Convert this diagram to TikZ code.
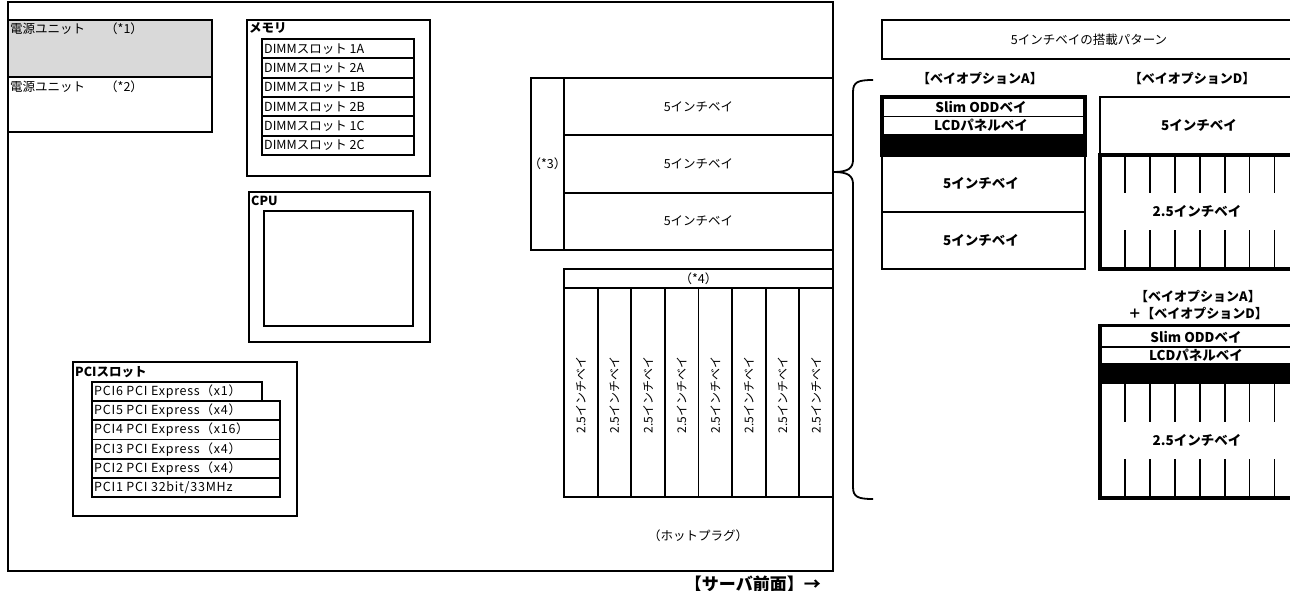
\documentclass[tikz,border=0pt]{standalone}
\usepackage{fontspec}
\setmainfont{Noto Sans CJK JP}
\definecolor{psugray}{HTML}{D9D9D9}
\tikzset{
  ln/.style={line width=1.8pt},
  thk/.style={line width=3.4pt},
  txt/.style={inner sep=0pt, font=\fontsize{12.5}{14}\selectfont},
  lt/.style={txt, anchor=west},
  pcit/.style={inner sep=0pt, anchor=west, font=\fontsize{12.5}{14}\selectfont\addfontfeatures{LetterSpace=6}},
  vt/.style={inner sep=0pt, rotate=90, font=\fontsize{12}{14}\selectfont},
  hd/.style={inner sep=0pt, anchor=west, font=\fontsize{12.5}{14}\selectfont\bfseries},
  bd/.style={inner sep=0pt, font=\fontsize{13.5}{15}\selectfont\bfseries},
  lbl/.style={inner sep=0pt, font=\fontsize{13}{17}\selectfont\bfseries, align=center},
}
\begin{document}
\begin{tikzpicture}[x=1pt,y=-1pt]
\useasboundingbox (0,0) rectangle (1290,591);
\clip (0,0) rectangle (1290,591);

% main outline
\draw[ln] (8,2) rectangle (833,571);

% power units
\fill[psugray] (8,20) rectangle (212,77);
\draw[ln] (8,20) rectangle (212,132);
\draw[ln] (8,77) -- (212,77);
\node[lt] (psu1) at (10,29) {電源ユニット\hspace{20pt}（*1）};
\node[lt] (psu2) at (10,87) {電源ユニット\hspace{20pt}（*2）};

% memory
\draw[ln] (247,20) rectangle (430,176);
\node[hd] (mem) at (249,28) {メモリ};
\foreach \i/\t in {0/1A,1/2A,2/1B,3/2B,4/1C,5/2C}{
  \draw[ln] (262,{39+19.33*\i}) rectangle (414,{58.33+19.33*\i});
  \node[lt] (dimm\t) at (264,{48.67+19.33*\i}) {DIMMスロット \t};
}

% CPU
\draw[ln] (249,192) rectangle (430,342);
\draw[ln] (264,211) rectangle (413,326);
\node[hd] (cpu) at (251,201) {CPU};

% PCI
\draw[ln] (73,362) rectangle (297,516);
\node[hd] (pci) at (75,372) {PCIスロット};
\draw[ln] (92,382) rectangle (262,401.17);
\draw[ln] (92,401.17) rectangle (280,420.33);
\draw[ln] (92,420.33) rectangle (280,439.5);
\draw[ln] (92,439.5) rectangle (280,458.67);
\draw[ln] (92,458.67) rectangle (280,477.83);
\draw[ln] (92,477.83) rectangle (280,497);
\node[pcit] (pci6) at (94,391.6) {PCI6 PCI Express（x1）};
\node[pcit] (pci5) at (94,410.8) {PCI5 PCI Express（x4）};
\node[pcit] (pci4) at (94,429.9) {PCI4 PCI Express（x16）};
\node[pcit] (pci3) at (94,449.1) {PCI3 PCI Express（x4）};
\node[pcit] (pci2) at (94,468.3) {PCI2 PCI Express（x4）};
\node[pcit] (pci1) at (94,487.4) {PCI1 PCI 32bit/33MHz};

% 5 inch bays
\draw[ln] (531,78) rectangle (833,250);
\draw[ln] (564,78) -- (564,250);
\draw[ln] (564,135.3) -- (833,135.3);
\draw[ln] (564,192.7) -- (833,192.7);
\node[txt] (bay1) at (698.5,106.7) {5インチベイ};
\node[txt] (bay2) at (698.5,164) {5インチベイ};
\node[txt] (bay3) at (698.5,221.3) {5インチベイ};
\node[txt] (n3) at (547.5,164) {（*3）};

% 2.5 inch bays
\draw[ln] (564,269) rectangle (833,497);
\draw[ln] (564,288) -- (833,288);
\foreach \k in {1,...,7}{
  \draw[ln] ({564+33.625*\k},288) -- ({564+33.625*\k},497);
}
\node[txt] (n4) at (698.5,278.5) {（*4）};
\foreach \k in {0,...,7}{
  \node[vt] (sb\k) at ({580.8+33.625*\k},395) {2.5インチベイ};
}
\node[txt] (hot) at (698,536) {（ホットプラグ）};
\node[inner sep=0pt, anchor=east, font=\fontsize{17}{18}\selectfont\bfseries] (front) at (821,584) {【サーバ前面】→};

% brace
\draw[ln] (873,80) .. controls (858,80) and (853,82) .. (853,92) -- (853,160)
  .. controls (853,168) and (848,172) .. (834,172)
  .. controls (848,172) and (853,176) .. (853,184) -- (853,487)
  .. controls (853,497) and (858,499) .. (873,499);

% pattern title
\draw[ln] (882,20) rectangle (1300,59);
\node[txt] (pat) at (1089,40) {5インチベイの搭載パターン};
\node[lbl] (optA) at (980,78.5) {【ベイオプションA】};
\node[lbl] (optD) at (1192,78.5) {【ベイオプションD】};

% option A
\draw[ln] (882,155) rectangle (1085,269);
\draw[ln] (882,212) -- (1085,212);
\draw[thk] (882,97) rectangle (1085,155);
\draw[ln] (882,116.5) -- (1085,116.5);
\fill (880.3,134) rectangle (1086.7,155);
\node[bd] (aslim) at (981,107) {Slim ODDベイ};
\node[bd] (alcd) at (981,125.5) {LCDパネルベイ};
\node[bd] (a5a) at (981,183.5) {5インチベイ};
\node[bd] (a5b) at (981,240.5) {5インチベイ};

% option D
\draw[ln] (1100,97) rectangle (1300,155);
\draw[thk] (1100,155) rectangle (1300,269);
\foreach \k in {0,...,7}{
  \draw[ln] ({1125+24.9*\k},155) -- ({1125+24.9*\k},193);
  \draw[ln] ({1125+24.9*\k},230) -- ({1125+24.9*\k},269);
}
\node[bd] (d5) at (1199,125) {5インチベイ};
\node[bd] (d25) at (1197,211.5) {2.5インチベイ};

% option A + D
\node[lbl] (optAD) at (1198,305) {【ベイオプションA】\\＋【ベイオプションD】};
\draw[thk] (1100,325.5) rectangle (1300,498);
\draw[ln] (1100,347) -- (1300,347);
\fill (1100,363) rectangle (1300,384);
\foreach \k in {0,...,7}{
  \draw[ln] ({1125+24.9*\k},384) -- ({1125+24.9*\k},422);
  \draw[ln] ({1125+24.9*\k},459) -- ({1125+24.9*\k},498);
}
\node[bd] (adslim) at (1196,337) {Slim ODDベイ};
\node[bd] (adlcd) at (1196,355.5) {LCDパネルベイ};
\node[bd] (ad25) at (1197,440) {2.5インチベイ};
\end{tikzpicture}
\end{document}
